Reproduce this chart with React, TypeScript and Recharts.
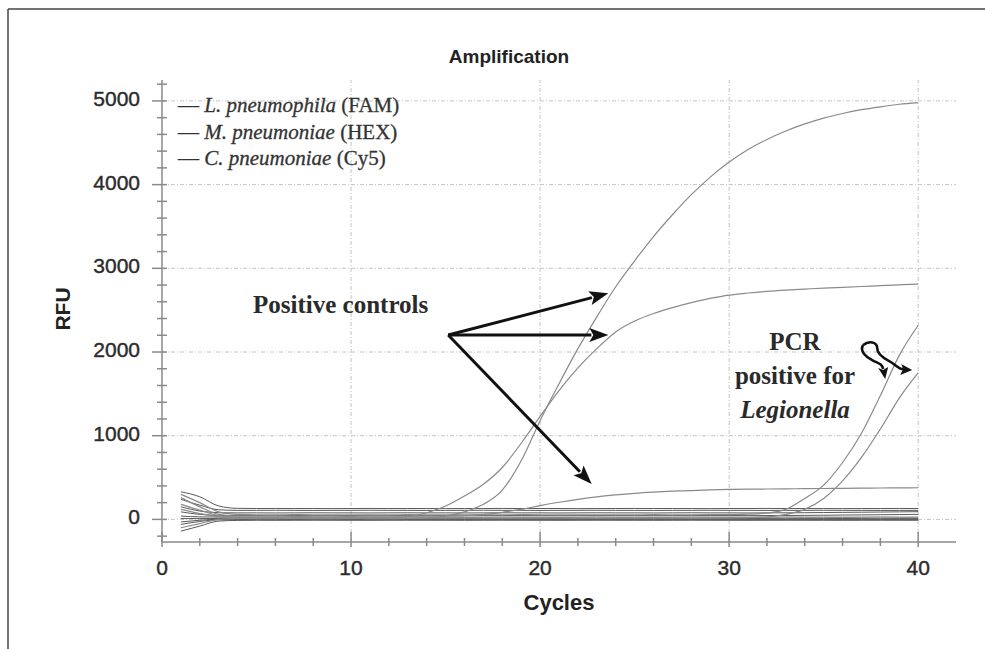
import React from 'react';
import { LineChart, Line, XAxis, YAxis, ReferenceLine, ReferenceDot } from 'recharts';

// ---------- data ----------
const cycles = [1, 2, 3, 4, 5, 6, 7, 8, 9, 10, 11, 12, 13, 14, 15, 16, 17, 18, 19, 20, 21, 22, 23, 24, 25, 26, 27, 28, 29, 30, 31, 32, 33, 34, 35, 36, 37, 38, 39, 40];

// positive controls
const famPos = [120, 70, 30, 15, 10, 10, 11, 10, 10, 11, 10, 10, 12, 18, 40, 90, 180, 350, 700, 1180, 1620, 2040, 2420, 2780, 3090, 3380, 3640, 3880, 4090, 4270, 4420, 4540, 4640, 4725, 4795, 4850, 4895, 4930, 4960, 4980];
const hexPos = [180, 110, 45, 25, 20, 20, 21, 20, 20, 21, 20, 22, 35, 80, 160, 280, 420, 620, 910, 1230, 1540, 1810, 2040, 2240, 2370, 2460, 2530, 2590, 2640, 2680, 2705, 2725, 2740, 2752, 2763, 2773, 2783, 2793, 2803, 2812];
const cy5Pos = [260, 150, 60, 40, 38, 38, 37, 38, 38, 37, 38, 38, 38, 39, 40, 45, 60, 85, 120, 165, 205, 240, 270, 293, 312, 326, 337, 345, 352, 358, 361, 363, 365, 367, 369, 371, 373, 375, 377, 378];
// samples positive for Legionella
const legSample1 = [300, 200, 90, 60, 55, 55, 56, 55, 55, 54, 55, 55, 56, 55, 55, 54, 55, 55, 56, 55, 55, 55, 54, 55, 55, 56, 55, 55, 56, 58, 62, 75, 120, 250, 410, 680, 1030, 1480, 1960, 2320];
const legSample2 = [-100, -50, 0, 12, 15, 15, 16, 15, 15, 14, 15, 15, 16, 15, 15, 14, 15, 15, 16, 15, 15, 15, 14, 15, 15, 16, 15, 15, 16, 17, 20, 30, 60, 120, 250, 460, 740, 1080, 1450, 1750];
// negative samples (baselines)
const neg1 = [330, 270, 160, 132, 130, 131, 130, 130, 129, 130, 131, 130, 130, 130, 129, 130, 130, 131, 130, 130, 130, 129, 130, 130, 131, 130, 130, 130, 129, 130, 130, 131, 130, 130, 130, 129, 130, 130, 131, 130];
const neg2 = [240, 170, 115, 108, 108, 109, 108, 107, 108, 108, 109, 108, 108, 107, 108, 108, 109, 108, 108, 107, 108, 108, 109, 108, 108, 107, 108, 108, 109, 108, 108, 107, 108, 108, 109, 108, 108, 107, 108, 108];
const neg3 = [150, 100, 80, 78, 78, 77, 78, 79, 78, 78, 77, 78, 79, 78, 78, 77, 78, 79, 78, 78, 77, 78, 79, 78, 78, 77, 78, 79, 78, 78, 77, 78, 79, 80, 82, 84, 86, 88, 90, 92];
const neg4 = [90, 60, 48, 46, 46, 45, 46, 47, 46, 46, 45, 46, 47, 46, 46, 45, 46, 47, 46, 46, 45, 46, 47, 46, 46, 45, 46, 47, 46, 46, 45, 46, 47, 48, 50, 52, 54, 56, 58, 60];
const neg5 = [40, 30, 28, 27, 27, 26, 27, 28, 27, 27, 26, 27, 28, 27, 27, 26, 27, 28, 27, 27, 26, 27, 28, 27, 27, 26, 27, 28, 27, 27, 26, 27, 28, 27, 27, 26, 27, 28, 27, 27];
const neg6 = [10, 10, 10, 9, 9, 10, 9, 8, 9, 9, 10, 9, 8, 9, 9, 10, 9, 8, 9, 9, 10, 9, 8, 9, 9, 10, 9, 8, 9, 9, 10, 9, 8, 9, 9, 10, 9, 8, 9, 9];
const neg7 = [-30, -10, 2, 3, 3, 4, 3, 2, 3, 3, 4, 3, 2, 3, 3, 4, 3, 2, 3, 3, 4, 3, 2, 3, 3, 4, 3, 2, 3, 3, 4, 3, 2, 3, 3, 4, 3, 2, 3, 3];
const neg8 = [-60, -25, -5, -4, -4, -3, -4, -5, -4, -4, -3, -4, -5, -4, -4, -3, -4, -5, -4, -4, -3, -4, -5, -4, -4, -3, -4, -5, -4, -4, -3, -4, -5, -4, -4, -3, -4, -5, -4, -4];
const neg9 = [-140, -80, -20, -12, -10, -11, -10, -9, -10, -10, -11, -10, -9, -10, -10, -11, -10, -9, -10, -10, -11, -10, -9, -10, -10, -11, -10, -9, -10, -10, -11, -10, -9, -10, -10, -11, -10, -9, -10, -10];

const xTicks = [0, 2, 4, 6, 8, 10, 12, 14, 16, 18, 20, 22, 24, 26, 28, 30, 32, 34, 36, 38, 40];
const yTicks = [-200, 0, 200, 400, 600, 800, 1000, 1200, 1400, 1600, 1800, 2000, 2200, 2400, 2600, 2800, 3000, 3200, 3400, 3600, 3800, 4000, 4200, 4400, 4600, 4800, 5000, 5200];
const gridX = [10, 20, 30, 40];
const gridY = [0, 1000, 2000, 3000, 4000, 5000];

// annotation anchors (data coordinates)
const arrowFrom = { x: 15.14, y: 2203 };
const arrowTargets = [
  { x: 23.61, y: 2701 },
  { x: 23.61, y: 2203 },
  { x: 22.73, y: 423 },
];
const squiggleAnchor = { x: 37.09, y: 2083 };

const negSeries = [neg1, neg2, neg3, neg4, neg5, neg6, neg7, neg8, neg9];
const curveSeries = [cy5Pos, legSample2, legSample1, hexPos, famPos];

const data = cycles.map((c, i) => {
  const row: any = { cycle: c };
  negSeries.forEach((s, k) => { row['neg' + (k + 1)] = s[i]; });
  row.cy5Pos = cy5Pos[i];
  row.legSample1 = legSample1[i];
  row.legSample2 = legSample2[i];
  row.hexPos = hexPos[i];
  row.famPos = famPos[i];
  return row;
});
const curveKeys = ['cy5Pos', 'legSample2', 'legSample1', 'hexPos', 'famPos'];

// ---------- styling ----------
const AXIS = '#8a8a8a';
const SANS = '"Liberation Sans", Arial, Helvetica, sans-serif';
const SERIF = '"Liberation Serif", "Times New Roman", serif';

const BottomTick = (p: any) => {
  const { x, y, payload } = p;
  const v = payload.value;
  const major = v % 10 === 0;
  return (
    <g>
      <line x1={x} x2={x} y1={y - (major ? 10 : 4)} y2={y + (major ? 5 : 4)} stroke={AXIS} strokeWidth={1.5} />
      {major && (
        <text x={x} y={y + 33} textAnchor="middle" fontSize={21} fontFamily={SANS} fill="#2b2b2b" stroke="#2b2b2b" strokeWidth={0.4}>
          {v}
        </text>
      )}
    </g>
  );
};
const TopTick = (p: any) => {
  const { x, y, payload } = p;
  const major = payload.value % 10 === 0;
  return <line x1={x} x2={x} y1={y - 2} y2={y + (major ? 6 : 4)} stroke={AXIS} strokeWidth={1.5} />;
};
const LeftTick = (p: any) => {
  const { x, y, payload } = p;
  const v = payload.value;
  const major = v % 1000 === 0;
  return (
    <g>
      <line x1={x - (major ? 10 : 5)} x2={x + 5} y1={y} y2={y} stroke={AXIS} strokeWidth={1.5} />
      {major && (
        <text x={x - 22} y={y + 5} textAnchor="end" fontSize={21} fontFamily={SANS} fill="#2b2b2b" stroke="#2b2b2b" strokeWidth={0.4}>
          {v}
        </text>
      )}
    </g>
  );
};
const RightTick = (p: any) => {
  const { x, y, payload } = p;
  const major = payload.value % 1000 === 0;
  return <line x1={x - (major ? 7 : 5)} x2={x + 2} y1={y} y2={y} stroke={AXIS} strokeWidth={1.5} />;
};

const ArrowShape = (p: any) => {
  const { x1, y1, x2, y2 } = p;
  const dx = x2 - x1;
  const dy = y2 - y1;
  const len = Math.sqrt(dx * dx + dy * dy) || 1;
  const ux = dx / len;
  const uy = dy / len;
  const headL = 19;
  const headW = 7;
  const bx = x2 - ux * headL;
  const by = y2 - uy * headL;
  return (
    <g>
      <line x1={x1} y1={y1} x2={bx + ux * 2} y2={by + uy * 2} stroke="#111" strokeWidth={3} />
      <polygon
        points={`${x2},${y2} ${bx - uy * headW},${by + ux * headW} ${bx + ux * 4},${by + uy * 4} ${bx + uy * headW},${by - ux * headW}`}
        fill="#111"
      />
    </g>
  );
};

const SquiggleShape = (p: any) => {
  const { cx, cy } = p;
  return (
    <g transform={`translate(${cx},${cy})`}>
      <path d="M0,0 C6,-5 14,-3 14,3 C14,9 20,13 26,16 C32,19 35,24 40,24" fill="none" stroke="#111" strokeWidth={2.6} />
      <polygon points="49,25 38,19 40,24 37,30" fill="#111" />
      <path d="M0,0 C-4,6 3,12 9,15 C14,18 19,18 20,24" fill="none" stroke="#111" strokeWidth={2.6} />
      <polygon points="22,34 15,23 20,25 25,22" fill="#111" />
    </g>
  );
};

export default function App() {
  return (
    <div style={{ position: 'absolute', left: 0, top: 0, width: 985, height: 649, background: '#fff', overflow: 'hidden' }}>
      <LineChart width={985} height={649} data={data} margin={{ top: 80, right: 29, bottom: 47, left: 62 }}>
        <XAxis
          dataKey="cycle"
          type="number"
          domain={[0, 42]}
          ticks={xTicks}
          interval={0}
          tick={BottomTick}
          tickLine={false}
          tickSize={0}
          tickMargin={0}
          height={60}
          allowDataOverflow
          axisLine={{ stroke: AXIS, strokeWidth: 1.5 }}
        />
        <XAxis
          xAxisId="top"
          orientation="top"
          type="number"
          domain={[0, 42]}
          ticks={xTicks}
          interval={0}
          tick={TopTick}
          tickLine={false}
          tickSize={0}
          tickMargin={0}
          height={0}
          allowDataOverflow
          axisLine={{ stroke: AXIS, strokeWidth: 1.5 }}
        />
        <YAxis
          type="number"
          domain={[-270, 5250]}
          ticks={yTicks}
          interval={0}
          tick={LeftTick}
          tickLine={false}
          tickSize={0}
          tickMargin={0}
          width={100}
          allowDataOverflow
          axisLine={{ stroke: AXIS, strokeWidth: 1.5 }}
        />
        <YAxis
          yAxisId="right"
          orientation="right"
          type="number"
          domain={[-270, 5250]}
          ticks={yTicks}
          interval={0}
          tick={RightTick}
          tickLine={false}
          tickSize={0}
          tickMargin={0}
          width={0}
          allowDataOverflow
          axisLine={{ stroke: AXIS, strokeWidth: 1.5 }}
        />
        {gridX.map((g) => (
          <ReferenceLine key={'gx' + g} x={g} stroke="#c4c4c4" strokeDasharray="4 2 1 2" strokeWidth={1} />
        ))}
        {gridY.map((g) => (
          <ReferenceLine key={'gy' + g} y={g} stroke="#c4c4c4" strokeDasharray="4 2 1 2" strokeWidth={1} />
        ))}
        {negSeries.map((_, k) => (
          <Line
            key={'neg' + k}
            dataKey={'neg' + (k + 1)}
            type="monotone"
            stroke="#5a5a5a"
            strokeWidth={1}
            dot={false}
            isAnimationActive={false}
          />
        ))}
        {curveKeys.map((k) => (
          <Line key={k} dataKey={k} type="monotone" stroke="#8a8a8a" strokeWidth={1.2} dot={false} isAnimationActive={false} />
        ))}
        {arrowTargets.map((t, i) => (
          <ReferenceLine
            key={'arrow' + i}
            segment={[arrowFrom, t]}
            shape={ArrowShape}
            ifOverflow="visible"
          />
        ))}
        <ReferenceDot x={squiggleAnchor.x} y={squiggleAnchor.y} r={0} shape={SquiggleShape} ifOverflow="visible" />
      </LineChart>
      <svg width={985} height={649} style={{ position: 'absolute', left: 0, top: 0, pointerEvents: 'none' }}>
        <line x1={8} y1={9} x2={985} y2={9} stroke="#444" strokeWidth={1.5} />
        <line x1={8} y1={9} x2={8} y2={649} stroke="#444" strokeWidth={1.5} />
        <text x={509} y={63} textAnchor="middle" fontSize={19} fontWeight="bold" fontFamily={SANS} fill="#222">
          Amplification
        </text>
        <text x={70} y={309} transform="rotate(-90 70 309)" textAnchor="middle" fontSize={21} fontWeight="bold" fontFamily={SANS} fill="#222">
          RFU
        </text>
        <text x={559} y={610} textAnchor="middle" fontSize={22} fontWeight="bold" fontFamily={SANS} fill="#222">
          Cycles
        </text>
        <g fontFamily={SERIF} fontSize={21} fill="#333" stroke="#333" strokeWidth={0.3}>
          <text x={178} y={112}>
            <tspan>— </tspan>
            <tspan fontStyle="italic">L. pneumophila</tspan>
            <tspan> (FAM)</tspan>
          </text>
          <text x={178} y={138.5}>
            <tspan>— </tspan>
            <tspan fontStyle="italic">M. pneumoniae</tspan>
            <tspan> (HEX)</tspan>
          </text>
          <text x={178} y={165}>
            <tspan>— </tspan>
            <tspan fontStyle="italic">C. pneumoniae</tspan>
            <tspan> (Cy5)</tspan>
          </text>
        </g>
        <g fontFamily={SERIF} fontWeight="bold" fill="#2a2a2a">
          <text x={253} y={313} fontSize={25}>Positive controls</text>
          <text x={795} y={350} fontSize={25} textAnchor="middle">PCR</text>
          <text x={795} y={383.5} fontSize={25} textAnchor="middle">positive for</text>
          <text x={795} y={418} fontSize={25} textAnchor="middle" fontStyle="italic">Legionella</text>
        </g>
      </svg>
    </div>
  );
}
